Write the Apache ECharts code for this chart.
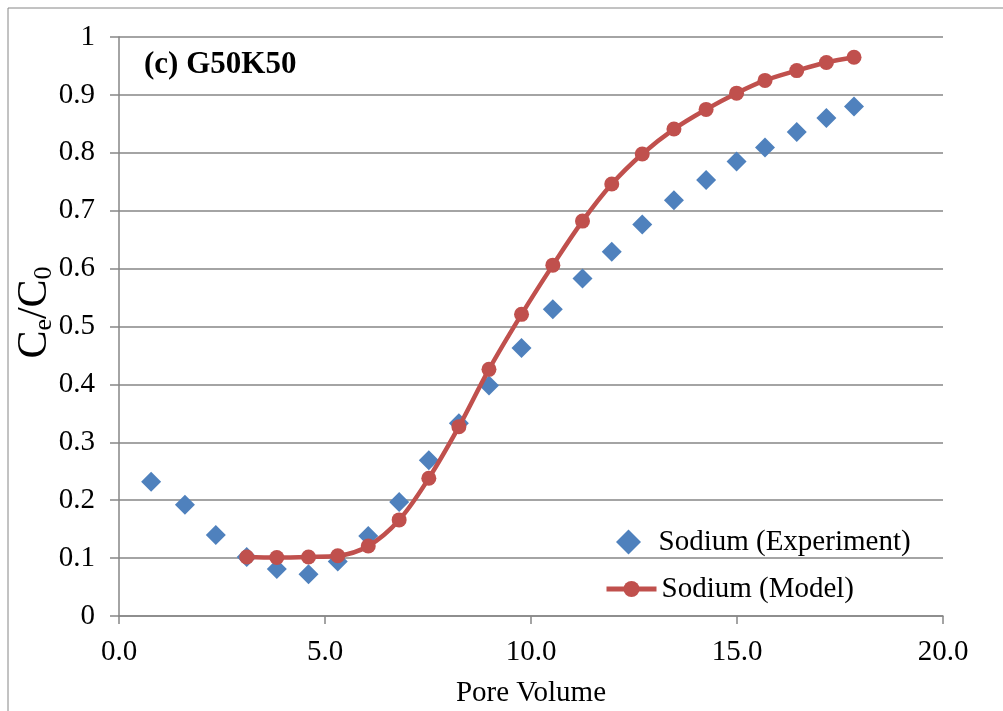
<!DOCTYPE html>
<html>
<head>
<meta charset="utf-8">
<script src="https://cdn.jsdelivr.net/npm/echarts@6/dist/echarts.min.js"></script>
<style>
  html, body { margin: 0; padding: 0; background: #fff; }
  #chart { width: 1003px; height: 711px; }
</style>
</head>
<body>
<div id="chart"></div>
<script>
// pore volume (x) for each sample
const poreVolume = [0.78, 1.60, 2.35, 3.10, 3.83, 4.60, 5.31, 6.05, 6.80, 7.52, 8.25, 8.98,
  9.77, 10.53, 11.25, 11.96, 12.70, 13.47, 14.25, 14.99, 15.68, 16.45, 17.17, 17.84];
const experiment = [0.232, 0.192, 0.140, 0.102, 0.081, 0.072, 0.094, 0.138, 0.197, 0.269, 0.333, 0.398,
  0.463, 0.530, 0.583, 0.629, 0.676, 0.718, 0.753, 0.785, 0.809, 0.836, 0.860, 0.880];
// model starts at the 4th sample
const modelPoreVolume = poreVolume.slice(3);
const model = [0.102, 0.101, 0.102, 0.104, 0.121, 0.166, 0.238, 0.327, 0.426,
  0.521, 0.606, 0.682, 0.746, 0.798, 0.841, 0.875, 0.903, 0.925, 0.942, 0.956, 0.965];
const xTicks = [0, 5, 10, 15, 20];

const FONT = "'Liberation Serif', 'Times New Roman', serif";
const GRAY = "#868686";
const BLUE = "#4F81BD";
const RED = "#C0504D";

const chart = echarts.init(document.getElementById("chart"), null, { renderer: "canvas" });

const legendText = { fontFamily: FONT, fontSize: 29, color: "#000", lineHeight: 30 };

const option = {
  animation: false,
  backgroundColor: "#fff",
  textStyle: { fontFamily: FONT, color: "#000" },
  title: {
    text: "(c) G50K50",
    left: 139,
    top: 44,
    textStyle: { fontFamily: FONT, fontSize: 31, fontWeight: "bold", color: "#000" },
  },
  graphic: [
    {
      type: "rect",
      shape: { x: 8, y: 8, width: 1100, height: 800 },
      style: { fill: null, stroke: GRAY, lineWidth: 1 },
      silent: true,
    },
  ],
  // two legends so the diamond and the line icon can have their own sizes
  legend: [
    {
      orient: "vertical",
      left: 611,
      top: 522,
      itemWidth: 50,
      itemHeight: 25,
      textStyle: legendText,
      data: [
        { name: "Sodium (Experiment)", icon: "path://M0,-1L1,0L0,1L-1,0Z", itemStyle: { color: BLUE, opacity: 1 } },
      ],
    },
    {
      orient: "vertical",
      left: 599,
      top: 569,
      itemWidth: 50,
      itemHeight: 20,
      textStyle: legendText,
      lineStyle: { width: 5 },
      data: [{ name: "Sodium (Model)" }],
    },
  ],
  grid: { left: 119, right: 60, top: 37, bottom: 95, containLabel: false, outerBoundsMode: "none" },
  xAxis: {
    type: "value",
    min: xTicks[0],
    max: xTicks[xTicks.length - 1],
    interval: 5,
    name: "Pore Volume",
    nameLocation: "middle",
    nameGap: 63,
    nameMoveOverlap: false,
    nameTextStyle: { fontFamily: FONT, fontSize: 29, color: "#000" },
    axisLine: { show: true, lineStyle: { color: GRAY, width: 1.5 } },
    axisTick: { show: true, length: 8, lineStyle: { color: GRAY, width: 1.5 } },
    axisLabel: {
      margin: 22,
      fontFamily: FONT,
      fontSize: 29,
      color: "#000",
      formatter: (v) => v.toFixed(1),
    },
    splitLine: { show: false },
  },
  yAxis: {
    type: "value",
    min: 0,
    max: 1,
    interval: 0.1,
    name: "{a|C}{s|e}{a|/C}{s|0}",
    nameLocation: "middle",
    nameRotate: 90,
    nameGap: 62,
    nameMoveOverlap: false,
    nameTextStyle: {
      padding: [0, 0, 0, 28],
      rich: {
        a: { fontFamily: FONT, fontSize: 42, color: "#000", lineHeight: 44 },
        s: { fontFamily: FONT, fontSize: 26, color: "#000", padding: [18, 0, 0, 0] },
      },
    },
    axisLine: { show: true, lineStyle: { color: GRAY, width: 1.5 } },
    axisTick: { show: true, length: 9, lineStyle: { color: GRAY, width: 1.5 } },
    axisLabel: { margin: 24, fontFamily: FONT, fontSize: 29, color: "#000" },
    splitLine: { show: true, lineStyle: { color: GRAY, width: 1.5 } },
  },
  series: [
    {
      name: "Sodium (Experiment)",
      type: "scatter",
      symbol: "diamond",
      symbolSize: 20,
      itemStyle: { color: BLUE, opacity: 1 },
      data: poreVolume.map((x, i) => [x, experiment[i]]),
      z: 3,
    },
    {
      name: "Sodium (Model)",
      type: "line",
      smooth: 0.35,
      symbol: "circle",
      symbolSize: 15,
      lineStyle: { color: RED, width: 4.5 },
      itemStyle: { color: RED, opacity: 1 },
      data: modelPoreVolume.map((x, i) => [x, model[i]]),
      z: 4,
    },
  ],
};

chart.setOption(option);
</script>
</body>
</html>
